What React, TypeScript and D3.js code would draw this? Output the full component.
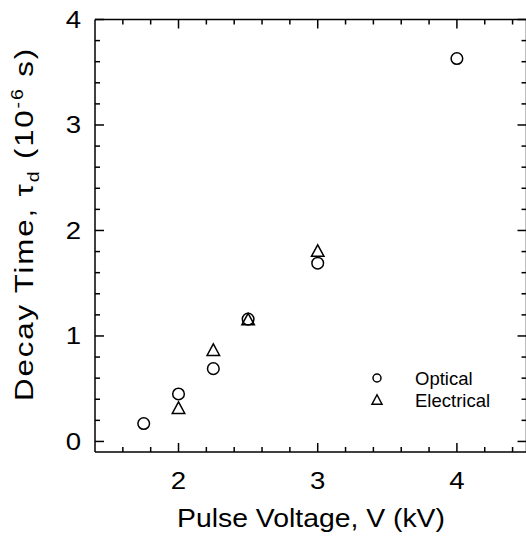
import React, { useLayoutEffect, useRef, useState } from "react";
import * as d3 from "d3";

const opticalV = [1.75, 2.0, 2.25, 2.5, 3.0, 4.0];
const opticalT = [0.17, 0.45, 0.69, 1.16, 1.69, 3.63];
const electricalV = [2.0, 2.25, 2.5, 3.0];
const electricalT = [0.32, 0.87, 1.16, 1.81];
const xMajor = [2, 3, 4];
const yMajor = [0, 1, 2, 3, 4];
const legendLabels = ["Optical", "Electrical"];
const xTitle = "Pulse Voltage, V (kV)";

const W = 526, H = 541;
const left = 95, right = 526.5, top = 19.5, bottom = 452;
const FONT = "'Liberation Sans', Arial, sans-serif";

function triPath(cx: number, cy: number, w: number, h: number) {
  return `M${cx - w / 2},${cy + h / 2}L${cx + w / 2},${cy + h / 2}L${cx},${cy - h / 2}Z`;
}

export default function App() {
  const x = d3.scaleLinear().domain([1.4, 4.5]).range([left, right]);
  const y = d3.scaleLinear().domain([-0.1, 4]).range([bottom, top]);
  const xMinor = d3.range(1.6, 4.5, 0.2).filter((v) => !xMajor.some((m) => Math.abs(m - v) < 1e-6));
  const yMinor = d3.range(0.2, 4, 0.2).filter((v) => !yMajor.some((m) => Math.abs(m - v) < 1e-6));
  const stroke = "#000";
  const sw = 1.5;
  const MAJ = 9, MIN = 5;
  const TS = 1.2; // horizontal stretch of tick labels

  const xtRef = useRef<SVGTextElement>(null);
  const ytRef = useRef<SVGTextElement>(null);
  const [sx, setSx] = useState(1);
  const [sy, setSy] = useState(1);
  useLayoutEffect(() => {
    if (xtRef.current) {
      const w = xtRef.current.getBBox().width;
      if (w > 0) setSx(268 / w);
    }
    if (ytRef.current) {
      const w = ytRef.current.getBBox().width;
      if (w > 0) setSy(354 / w);
    }
  }, []);

  return (
    <svg width={W} height={H} style={{ position: "absolute", left: 0, top: 0, background: "#fff" }} fontFamily={FONT}>
      <rect x={0} y={0} width={W} height={H} fill="#fff" />
      {/* frame */}
      <line x1={left} x2={right} y1={top} y2={top} stroke={stroke} strokeWidth={sw} />
      <line x1={left} x2={right} y1={bottom} y2={bottom} stroke={stroke} strokeWidth={sw} />
      <line x1={left} x2={left} y1={top} y2={bottom} stroke={stroke} strokeWidth={sw} />
      <line x1={right} x2={right} y1={top} y2={bottom} stroke={stroke} strokeWidth={sw} />
      {/* x ticks */}
      {xMajor.map((v) => (
        <g key={"xM" + v}>
          <line x1={x(v)} x2={x(v)} y1={bottom} y2={bottom - MAJ} stroke={stroke} strokeWidth={sw} />
          <line x1={x(v)} x2={x(v)} y1={top} y2={top + MAJ} stroke={stroke} strokeWidth={sw} />
          <text transform={`translate(${x(v)},489) scale(${TS},1)`} textAnchor="middle" fontSize={23}>{v}</text>
        </g>
      ))}
      {xMinor.map((v) => (
        <g key={"xm" + v}>
          <line x1={x(v)} x2={x(v)} y1={bottom} y2={bottom - MIN} stroke={stroke} strokeWidth={sw} />
          <line x1={x(v)} x2={x(v)} y1={top} y2={top + MIN} stroke={stroke} strokeWidth={sw} />
        </g>
      ))}
      {/* y ticks */}
      {yMajor.map((v) => (
        <g key={"yM" + v}>
          <line x1={left} x2={left + MAJ} y1={y(v)} y2={y(v)} stroke={stroke} strokeWidth={sw} />
          <line x1={right} x2={right - MAJ} y1={y(v)} y2={y(v)} stroke={stroke} strokeWidth={sw} />
          <text transform={`translate(81,${y(v) + 8.5}) scale(${TS},1)`} textAnchor="end" fontSize={23}>{v}</text>
        </g>
      ))}
      {yMinor.map((v) => (
        <g key={"ym" + v}>
          <line x1={left} x2={left + MIN} y1={y(v)} y2={y(v)} stroke={stroke} strokeWidth={sw} />
          <line x1={right} x2={right - MIN} y1={y(v)} y2={y(v)} stroke={stroke} strokeWidth={sw} />
        </g>
      ))}
      {/* data */}
      {opticalV.map((v, i) => (
        <circle key={"o" + i} cx={x(v)} cy={y(opticalT[i])} r={5.8} fill="none" stroke={stroke} strokeWidth={sw} />
      ))}
      {electricalV.map((v, i) => (
        <path key={"e" + i} d={triPath(x(v), y(electricalT[i]), 12.5, 11.5)} fill="none" stroke={stroke} strokeWidth={sw} />
      ))}
      {/* legend */}
      <circle cx={377} cy={378} r={4} fill="none" stroke={stroke} strokeWidth={sw} />
      <text x={415} y={385} fontSize={18.5}>{legendLabels[0]}</text>
      <path d={triPath(377, 399.5, 10, 9.5)} fill="none" stroke={stroke} strokeWidth={sw} />
      <text x={415} y={406.5} fontSize={18.5}>{legendLabels[1]}</text>
      {/* axis titles */}
      <text ref={xtRef} transform={`translate(311,527) scale(${sx},1)`} textAnchor="middle" fontSize={25.5}>{xTitle}</text>
      <text ref={ytRef} transform={`translate(33,224) rotate(-90) scale(${sy},1)`} textAnchor="middle" fontSize={25.5} letterSpacing={1.5}>
        Decay Time, τ<tspan dy={6} fontSize={16}>d</tspan>
        <tspan dy={-6}> (10</tspan>
        <tspan dy={-10} fontSize={16}>-6</tspan>
        <tspan dy={10}> s)</tspan>
      </text>
    </svg>
  );
}
